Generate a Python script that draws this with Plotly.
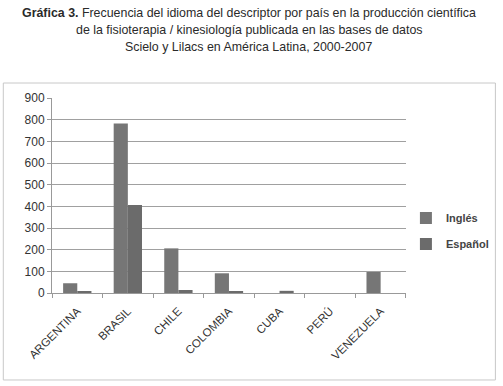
import plotly.graph_objects as go

paises = ["ARGENTINA", "BRASIL", "CHILE", "COLOMBIA", "CUBA", "PERÚ", "VENEZUELA"]
ingles = [45, 782, 206, 91, 0, 0, 97]
espanol = [7, 406, 14, 5, 10, 0, 0]

titulo = [
    "<b>Gráfica 3.</b> Frecuencia del idioma del descriptor por país en la producción científica",
    "de la fisioterapia / kinesiología publicada en las bases de datos",
    "Scielo y Lilacs en América Latina, 2000-2007",
]

fig = go.Figure()
fig.add_trace(go.Bar(x=paises, y=ingles, name="Inglés", marker_color="#767676",
                     marker_line_width=0, legendgroup="a"))
fig.add_trace(go.Bar(x=paises, y=espanol, name="Español", marker_color="#6b6b6b",
                     marker_line_width=0, legendgroup="b"))

fig.update_layout(
    width=503, height=386,
    margin=dict(l=52, r=95, t=98, b=93),
    paper_bgcolor="white", plot_bgcolor="white",
    barmode="group", bargap=0.44, bargroupgap=0,
    legend=dict(xref="container", yref="container", x=0.807, y=0.4016,
                xanchor="left", yanchor="middle",
                font=dict(family="Liberation Sans, sans-serif", size=11, color="#444", weight="bold"),
                traceorder="grouped", tracegroupgap=7, itemwidth=30,
                bgcolor="rgba(0,0,0,0)"),
    showlegend=True,
    font=dict(family="Liberation Sans, sans-serif", color="#333"),
)
ys = [1.436, 1.349, 1.262]
for txt, yy in zip(titulo, ys):
    fig.add_annotation(text=txt, xref="paper", yref="paper", x=0.556, y=yy,
                       xanchor="center", yanchor="middle", showarrow=False,
                       font=dict(family="Liberation Sans, sans-serif", size=12.4, color="#2a2a2a"))
fig.update_xaxes(
    tickangle=-45, tickfont=dict(size=11.5, color="#333"),
    showline=True, linecolor="#999", linewidth=1,
    ticks="outside", ticklen=4, tickcolor="#999", tickson="boundaries",
    ticklabelstandoff=6,
    showgrid=False, automargin=False,
)
fig.update_yaxes(
    range=[0, 900], dtick=100, tickfont=dict(size=12, color="#333"),
    showline=True, linecolor="#999", linewidth=1,
    ticks="outside", ticklen=4, tickcolor="#999",
    showgrid=True, gridcolor="#a0a0a0", gridwidth=1, zeroline=False,
    automargin=False,
)
fig.add_shape(type="rect", xref="paper", yref="paper",
              x0=-0.1376, x1=1.2528, y0=-0.446, y1=1.0769,
              line=dict(color="#c8c8c8", width=1))
fig.write_html("out.html", config={"displayModeBar": False},
               post_script="document.body.style.margin='0';document.body.style.overflow='hidden';")
